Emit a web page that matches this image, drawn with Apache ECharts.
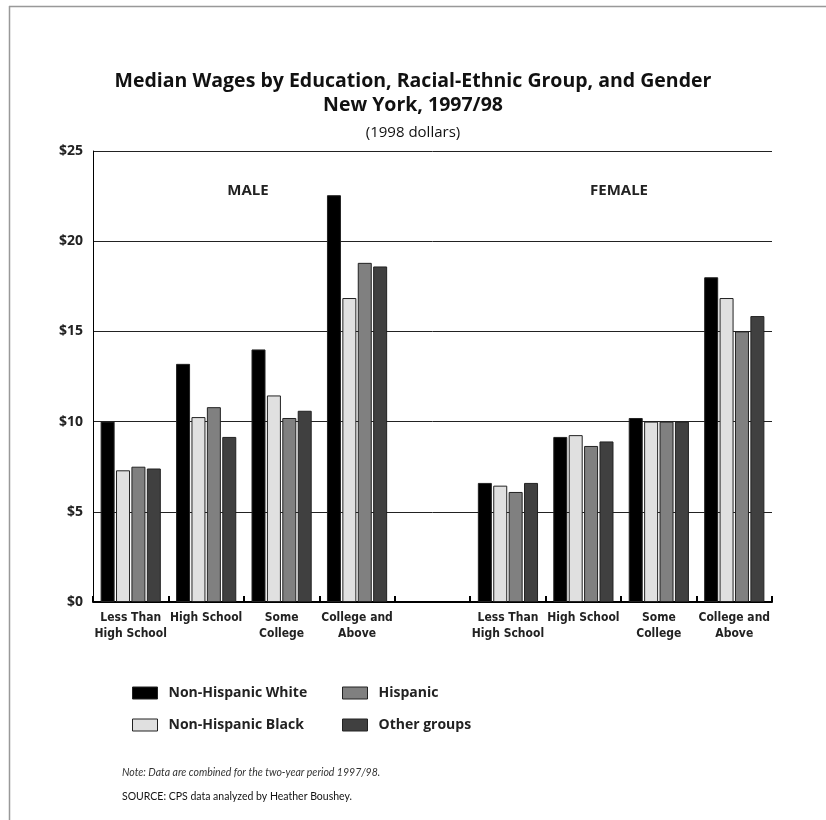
<!DOCTYPE html>
<html>
<head>
<meta charset="utf-8">
<script src="https://cdn.jsdelivr.net/npm/echarts@6/dist/echarts.min.js"></script>
<style>html,body{margin:0;padding:0;background:#fff}#c{width:826px;height:820px}</style>
</head>
<body>
<div id="c"></div>
<script>
var categories = ['Less Than\nHigh School', 'High School', 'Some\nCollege', 'College and\nAbove', '', 'Less Than\nHigh School', 'High School', 'Some\nCollege', 'College and\nAbove'];
var seriesNames = ['Non-Hispanic White', 'Non-Hispanic Black', 'Hispanic', 'Other groups'];
var nhWhite = [10.0, 13.2, 14.0, 22.55, '-', 6.6, 9.15, 10.2, 18.0];
var nhBlack = [7.3, 10.25, 11.45, 16.85, '-', 6.45, 9.25, 10.0, 16.85];
var hispanic = [7.5, 10.8, 10.2, 18.8, '-', 6.1, 8.65, 10.0, 15.0];
var otherGroups = [7.4, 9.15, 10.6, 18.6, '-', 6.6, 8.9, 10.0, 15.85];
var yTicks = [0, 5, 10, 15, 20, 25];

var colors = ['#000000', '#e0e0e0', '#808080', '#404040'];
var font = '"Open Sans", "Noto Sans", sans-serif';
var lato = 'Lato, "Open Sans", sans-serif';
var narrow = '"Liberation Sans Narrow", "DejaVu Sans Condensed", "Roboto Condensed", Lato, sans-serif';
var dataSets = [nhWhite, nhBlack, hispanic, otherGroups];

var chart = echarts.init(document.getElementById('c'), null, {renderer: 'canvas'});
var series = seriesNames.map(function (n, i) {
  return {
    name: n, type: 'bar', data: dataSets[i], barWidth: 14, barGap: '10%',
    itemStyle: {color: colors[i], borderColor: '#222', borderWidth: 1},
    emphasis: {disabled: true}
  };
});
chart.setOption({
  animation: false,
  backgroundColor: '#fff',
  color: colors,
  title: [
    {text: 'Median Wages by Education, Racial-Ethnic Group, and Gender\nNew York, 1997/98', left: 'center', top: 69, padding: 0,
      textStyle: {fontFamily: font, fontWeight: 'bold', fontSize: 19.5, lineHeight: 24, color: '#111'}},
    {text: '(1998 dollars)', left: 'center', top: 125, padding: 0, textStyle: {fontFamily: font, fontWeight: 'normal', fontSize: 15, color: '#111'}},
    {text: 'MALE', left: 248, top: 183, padding: 0, textAlign: 'center', textStyle: {fontFamily: font, fontWeight: 'bold', fontSize: 15, color: '#222'}},
    {text: 'FEMALE', left: 619, top: 183, padding: 0, textAlign: 'center', textStyle: {fontFamily: font, fontWeight: 'bold', fontSize: 15, color: '#222'}},
    {text: 'Note: Data are combined for the two-year period 1997/98.', left: 122, top: 767, padding: 0,
      textStyle: {fontFamily: lato, fontStyle: 'italic', fontWeight: 'normal', fontSize: 10.5, color: '#333'}},
    {text: 'SOURCE: CPS data analyzed by Heather Boushey.', left: 122, top: 791, padding: 0,
      textStyle: {fontFamily: lato, fontWeight: 'normal', fontSize: 10.5, color: '#111'}}
  ],
  legend: [
    {data: ['Non-Hispanic White', 'Non-Hispanic Black'], orient: 'vertical', left: 132, top: 685, padding: 0, itemWidth: 25, itemHeight: 12, itemGap: 16,
      icon: 'rect', selectedMode: false, textStyle: {fontFamily: font, fontWeight: 'bold', fontSize: 14, lineHeight: 16, color: '#222', padding: [0, 0, 0, 6]},
      itemStyle: {borderColor: '#222', borderWidth: 1}},
    {data: ['Hispanic', 'Other groups'], orient: 'vertical', left: 342, top: 685, padding: 0, itemWidth: 25, itemHeight: 12, itemGap: 16,
      icon: 'rect', selectedMode: false, textStyle: {fontFamily: font, fontWeight: 'bold', fontSize: 14, lineHeight: 16, color: '#222', padding: [0, 0, 0, 6]},
      itemStyle: {borderColor: '#222', borderWidth: 1}}
  ],
  grid: {left: 93, right: 54, top: 151, bottom: 218, containLabel: false},
  xAxis: {
    type: 'category', data: categories,
    axisLine: {lineStyle: {color: '#000', width: 2}},
    axisTick: {show: true, inside: true, length: 6, alignWithLabel: false, lineStyle: {color: '#000', width: 2}},
    axisLabel: {interval: 0, fontFamily: narrow, fontWeight: 'bold', fontSize: 12, lineHeight: 16, color: '#222', margin: 8}
  },
  yAxis: {
    type: 'value', min: 0, max: 25, interval: 5,
    axisLine: {show: true, lineStyle: {color: '#000', width: 1}},
    axisTick: {show: false},
    splitLine: {lineStyle: {color: '#222', width: 1}},
    axisLabel: {fontFamily: font, fontWeight: 'bold', fontSize: 14, color: '#222', margin: 10,
      formatter: function (v) { return yTicks.indexOf(v) >= 0 ? '$' + v : ''; }}
  },
  graphic: [
    {type: 'line', shape: {x1: 9, y1: 6.5, x2: 826, y2: 6.5}, style: {stroke: '#999', lineWidth: 1.5}, silent: true},
    {type: 'line', shape: {x1: 9.5, y1: 6, x2: 9.5, y2: 820}, style: {stroke: '#999', lineWidth: 1.5}, silent: true}
  ],
  series: series
});
</script>
</body>
</html>
